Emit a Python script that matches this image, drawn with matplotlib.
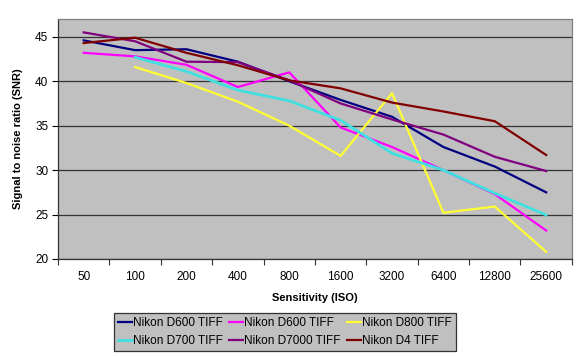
import matplotlib
matplotlib.use("Agg")
import matplotlib.pyplot as plt

plt.rcParams['font.family'] = ['Liberation Sans', 'DejaVu Sans']

iso_labels = ["50", "100", "200", "400", "800", "1600", "3200", "6400", "12800", "25600"]

series_names = ["Nikon D600 TIFF", "Nikon D600 TIFF", "Nikon D800 TIFF",
                "Nikon D700 TIFF", "Nikon D7000 TIFF", "Nikon D4 TIFF"]
series_colors = ["#000080", "#FF00FF", "#FFFF33", "#40E0E0", "#800080", "#800000"]

d600_navy = [44.6, 43.5, 43.6, 42.2, 40.0, 37.9, 36.0, 32.6, 30.4, 27.5]
d600_magenta = [43.2, 42.8, 41.85, 39.35, 41.0, 34.8, 32.6, 30.0, 27.3, 23.2]
d800 = [None, 41.6, 39.8, 37.7, 35.0, 31.6, 38.65, 25.2, 25.9, 20.8]
d700 = [None, 42.7, 41.1, 39.0, 37.8, 35.6, 31.9, 30.0, 27.4, 24.95]
d7000 = [45.5, 44.5, 42.2, 42.15, 40.1, 37.5, 35.7, 34.0, 31.5, 29.9]
d4 = [44.3, 44.9, 43.2, 41.8, 40.1, 39.2, 37.6, 36.6, 35.5, 31.7]

all_series = [d600_navy, d600_magenta, d800, d700, d7000, d4]

fig = plt.figure(figsize=(5.8, 3.56), dpi=100)
ax = fig.add_axes([0.1, 0.2725, 0.886, 0.674])
ax.set_facecolor("#C0C0C0")

handles = []
for name, color, vals in zip(series_names, series_colors, all_series):
    xs = [i for i, v in enumerate(vals) if v is not None]
    ys = [v for v in vals if v is not None]
    lw = 2.0 if color == "#40E0E0" else 1.6
    h, = ax.plot(xs, ys, color=color, lw=lw, label=name)
    handles.append(h)

ax.set_xlim(-0.5, len(iso_labels) - 0.5)
ax.set_ylim(20, 47)
ax.set_yticks([20, 25, 30, 35, 40, 45])
ax.set_xticks(range(len(iso_labels)))
ax.set_xticklabels(iso_labels)
ax.set_xticks([i - 0.5 for i in range(len(iso_labels) + 1)], minor=True)
ax.tick_params(axis='x', which='major', length=0, pad=9, labelsize=8.5)
ax.tick_params(axis='x', which='minor', length=4, width=0.8, direction='out', color='#333333')
ax.tick_params(axis='y', length=4, width=0.8, direction='out', labelsize=8.5, pad=3)
ax.yaxis.grid(True, color='#333333', lw=0.9)
ax.set_axisbelow(True)
for s in ['left', 'bottom']:
    ax.spines[s].set_color('#333333')
    ax.spines[s].set_linewidth(0.9)
for s in ['top', 'right']:
    ax.spines[s].set_color('#808080')
    ax.spines[s].set_linewidth(0.9)

ax.set_xlabel("Sensitivity (ISO)", fontsize=8, fontweight='bold', labelpad=7)
ax.set_ylabel("Signal to noise ratio (SNR)", fontsize=8, fontweight='bold', labelpad=9)

order = [0, 3, 1, 4, 2, 5]
leg = fig.legend([handles[i] for i in order], [series_names[i] for i in order],
                 loc='center', bbox_to_anchor=(0.491, 0.067), ncol=3, fontsize=8.5,
                 frameon=True, fancybox=False, edgecolor='#333333', facecolor='#C0C0C0',
                 handlelength=1.2, handletextpad=0.1, columnspacing=0.5,
                 borderpad=0.35, labelspacing=0.45)
leg.get_frame().set_linewidth(0.9)
leg.get_frame().set_alpha(1)

fig.savefig("out.png", dpi=100)
